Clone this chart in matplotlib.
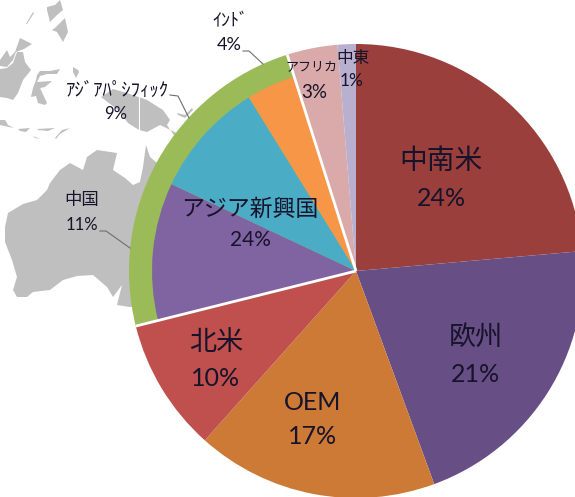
import numpy as np
import matplotlib
matplotlib.use("Agg")
import matplotlib.pyplot as plt
from matplotlib.patches import Polygon

plt.rcParams['font.family'] = ['Lato', 'Noto Sans CJK JP', 'DejaVu Sans']

W, H = 575, 497
CX, CY, R, R_IN = 356, 271, 227, 204

# Pie values, clockwise from the top (percent)
regions = ['中南米', '欧州', 'OEM', '北米', '中国', 'ｱｼﾞｱﾊﾟｼﾌｨｯｸ', 'ｲﾝﾄﾞ', 'アフリカ', '中東']
shares = [23.6, 20.8, 17.2, 9.5, 10.9, 9.2, 3.9, 3.6, 1.3]
labels = ['24%', '21%', '17%', '10%', '11%', '9%', '4%', '3%', '1%']
colors = ['#9A3F3C', '#674F86', '#CC7A35', '#BF504D', '#8064A2', '#4BACC6', '#F79646', '#D9AAA9', '#B9B0D0']
ring_members = [4, 5, 6]
ring_color = '#9BBB59'
map_color = '#BFBFBF'

# Background map outlines in image pixels (decoration, not data)
map_shapes = [
    # Australia
    [(50,183),(60,170),(70,163),(83,170),(87,157),(97,150),(117,153),(113,170),(125,178),(133,185),(140,182),
     (143,167),(146,145),(150,157),(157,163),(175,170),(175,300),(130,307),(117,305),(122,285),(113,297),
     (107,287),(93,275),(77,276),(63,280),(50,290),(33,292),(27,297),(17,297),(13,290),(17,277),(12,260),
     (5,242),(5,227),(8,213),(23,204),(37,200),(47,190)],
    # New Guinea
    [(101,97),(113,89),(127,93),(147,100),(163,110),(170,120),(167,125),(175,137),(185,137),(160,125),(147,132),
     (139,130),(128,123),(118,110)],
    # Borneo
    [(0,60),(7,50),(10,57),(15,52),(20,38),(26,41),(32,44),(24,49),(16,52),(13,60),(7,67),(0,66)],
    [(0,69),(7,68),(13,63),(17,52),(23,52),(25,62),(31,70),(23,80),(18,93),(13,100),(7,98),(0,97)],
    # Sulawesi
    [(37,75),(40,71),(50,71),(60,69),(57,74),(47,74),(40,76),(37,82),(52,81),(45,87),(40,88),(47,103),(45,105),
     (38,103),(36,96),(31,97),(33,88),(36,80)],
    # Philippines and small islands
    [(47,33),(55,28),(65,18),(68,32),(63,42),(57,32),(52,30)],
    [(47,7),(55,5),(60,0),(63,10),(57,15),(50,22),(47,10)],
    [(33,12),(34,13),(27,24),(26,24)],
    [(73,67),(78,70),(79,72),(76,78),(73,72)],
    [(0,120),(5,120),(8,125),(14,128),(0,125)],
    [(18,129),(30,128),(26,132),(20,131)],
    [(37,129),(55,128),(48,131),(38,130)],
    [(33,136),(40,139),(35,138)],
    [(55,138),(62,130),(70,128),(60,134),(56,139)],
    [(177,113),(185,115),(192,108),(193,110),(185,118),(178,115)],
]

fig = plt.figure(figsize=(W / 100, H / 100), dpi=100)
ax = fig.add_axes([0, 0, 1, 1])


def py(y):
    return H - y


for shape in map_shapes:
    ax.add_patch(Polygon([(x, py(y)) for x, y in shape], closed=True, fc=map_color, ec='none', zorder=0))
# white meridian across New Guinea
ax.plot([139, 139], [py(95), py(130)], color='white', lw=0.8, zorder=0.5)

# Outer pie: ring slices merged into one green sector
outer_vals = [v for i, v in enumerate(shares) if i not in ring_members]
outer_vals.insert(4, sum(shares[i] for i in ring_members))
outer_cols = [c for i, c in enumerate(colors) if i not in ring_members]
outer_cols.insert(4, ring_color)
ax.pie(outer_vals, colors=outer_cols, startangle=90, counterclock=False, center=(CX, py(CY)), radius=R,
       wedgeprops=dict(linewidth=0, zorder=1), frame=True)

# Inner pie: ring members drawn inside the green ring
inner_cols = [c if i in ring_members else 'none' for i, c in enumerate(colors)]
ax.pie(shares, colors=inner_cols, startangle=90, counterclock=False, center=(CX, py(CY)), radius=R_IN,
       wedgeprops=dict(linewidth=0, zorder=2), frame=True)

# White separators at the start and the end of the ring group
total = sum(shares)
for k in (ring_members[0], ring_members[-1] + 1):
    a = np.deg2rad(90 - 360 * sum(shares[:k]) / total)
    ax.plot([CX, CX + R * np.cos(a)], [py(CY), py(CY) + R * np.sin(a)], color='white', lw=2.0, zorder=3,
            solid_capstyle='butt')

ax.set_xlim(0, W)
ax.set_ylim(0, H)
ax.set_aspect('equal')
ax.axis('off')

txt = '#17132B'
# name position, percent position, name size, percent size
placement = {
    '中南米': ((441, 161), (441, 198), 20, 18),
    '欧州': ((476, 338), (475, 375), 19.5, 18),
    'OEM': ((313, 402), (313, 436), 18, 18),
    '北米': ((216, 343), (216, 379), 19.5, 18),
    '中国': ((82, 200), (82, 225), 12.5, 12),
    'ｱｼﾞｱﾊﾟｼﾌｨｯｸ': ((117, 90), (116, 114), 13.5, 12),
    'ｲﾝﾄﾞ': ((230, 21), (229, 45), 13, 13),
    'アフリカ': ((311, 66), (314, 92), 9.4, 13.5),
    '中東': ((353, 58), (352, 81), 12, 12.5),
}
for name, pct in zip(regions, labels):
    p1, p2, s1, s2 = placement[name]
    ax.text(p1[0], py(p1[1]), name, ha='center', va='center', fontsize=s1, color=txt, zorder=5)
    ax.text(p2[0], py(p2[1]), pct, ha='center', va='center', fontsize=s2, color=txt, zorder=5)
ax.text(250, py(209), 'アジア新興国', ha='center', va='center', fontsize=16.5, color=txt, zorder=5)
ax.text(250, py(240), '24%', ha='center', va='center', fontsize=15, color=txt, zorder=5)

# Leader lines
for line in ([(243, 51), (249, 51), (263, 64)], [(170, 95), (178, 96), (189, 118)], [(100, 231), (106, 231), (130, 248)]):
    ax.plot([p[0] for p in line], [py(p[1]) for p in line], color='#6E6E6E', lw=0.8, zorder=4)

fig.savefig('out.png', dpi=100)
